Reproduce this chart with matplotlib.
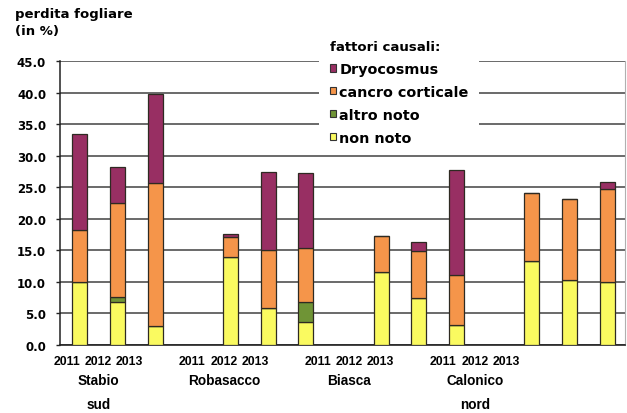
import matplotlib
matplotlib.use("Agg")
import matplotlib.pyplot as plt
import matplotlib.transforms as mtransforms
from matplotlib.patches import Patch
import numpy as np

# Sites and survey years
sites = ["Stabio\nsud", "Robasacco", "Biasca", "Calonico\nnord"]
years = ["2011", "2012", "2013"]

# Leaf loss (%) by causal factor, ordered site by site, year by year
non_noto = [10.0, 6.8, 2.9, 13.9, 5.8, 3.6, 11.5, 7.4, 3.2, 13.3, 10.2, 10.0]
altro_noto = [0.0, 0.8, 0.0, 0.0, 0.0, 3.2, 0.0, 0.0, 0.0, 0.0, 0.0, 0.0]
cancro = [8.2, 14.9, 22.7, 3.2, 9.3, 8.5, 5.8, 7.5, 7.9, 10.7, 12.9, 14.7]
dryocosmus = [15.3, 5.7, 14.2, 0.4, 12.3, 11.9, 0.0, 1.4, 16.6, 0.0, 0.0, 1.1]

series_labels = ["non noto", "altro noto", "cancro corticale", "Dryocosmus"]
series_colors = ["#fafa60", "#6f9436", "#f5954a", "#982f63"]
y_ticks = [0, 5, 10, 15, 20, 25, 30, 35, 40, 45]

W, H = 627, 414
fig = plt.figure(figsize=(W / 100, H / 100), dpi=100)
ax = fig.add_axes([60 / W, (H - 345.7) / H, (625 - 60) / W, (345.7 - 62) / H])

# bar slots: three years per site, one empty slot between sites
slots = np.array([g * 4 + y for g in range(len(sites)) for y in range(len(years))])

bottom = np.zeros(len(slots))
for vals, col in zip([non_noto, altro_noto, cancro, dryocosmus], series_colors):
    v = np.array(vals)
    ax.bar(slots, v, width=0.4, bottom=bottom, color=col,
           edgecolor="#2e2a22", linewidth=0.9, zorder=3)
    bottom += v

ax.set_xlim(-0.53, 14.47)
ax.set_ylim(0, 45)
ax.set_yticks(y_ticks)
ax.set_yticklabels([f"{t:.1f}" for t in y_ticks],
                   fontdict=dict(family="DejaVu Sans", weight="bold", size=8.5))
ax.tick_params(axis="y", length=3, width=1, pad=7, color="#222222")
ax.set_xticks([])

ax.yaxis.grid(True, color="#505050", linewidth=1.2, zorder=0)
ax.set_axisbelow(True)
ax.spines["top"].set_visible(False)
ax.spines["right"].set_color("#b0b0b0")
ax.spines["left"].set_color("#222222")
ax.spines["bottom"].set_color("#222222")
ax.spines["left"].set_linewidth(1.1)
ax.spines["bottom"].set_linewidth(1.2)

# category labels beneath the axis
trans = mtransforms.blended_transform_factory(ax.transData, fig.transFigure)
for i, k in enumerate(slots):
    ax.text(-0.345 + 0.833 * k, 1 - 362 / H, years[i % 3], transform=trans,
            ha="center", va="center",
            family=["Liberation Sans Narrow", "Liberation Sans"],
            weight="bold", size=8.8)
for g, name in enumerate(sites):
    k = g * 4 + 1
    ax.text(-0.345 + 0.833 * k, 1 - 374 / H, name, transform=trans,
            ha="center", va="top", family="Liberation Sans",
            weight="bold", size=9.8, linespacing=1.95)

# axis title
fig.text(15 / W, 1 - 8 / H, "perdita fogliare\n(in %)", ha="left", va="top",
         family="DejaVu Sans", weight="bold", size=9.5, linespacing=1.4)

handles = [Patch(facecolor=c, edgecolor="#333333", linewidth=0.8, label=l)
           for c, l in zip(series_colors, series_labels)][::-1]
leg = ax.legend(handles=handles, title="fattori causali:", loc="upper left",
                bbox_to_anchor=(319 / W, 1 - 30 / H),
                bbox_transform=fig.transFigure, borderaxespad=0,
                prop=dict(family="DejaVu Sans", weight="bold", size=10.4),
                title_fontproperties=dict(family="DejaVu Sans", weight="bold", size=9.5),
                alignment="left", frameon=True, fancybox=False,
                facecolor="white", edgecolor="none", framealpha=1,
                handlelength=0.45, handleheight=0.45, handletextpad=0.2,
                labelspacing=0.62, borderpad=0.75)
leg.set_zorder(5)

fig.savefig("out.png", dpi=100)
